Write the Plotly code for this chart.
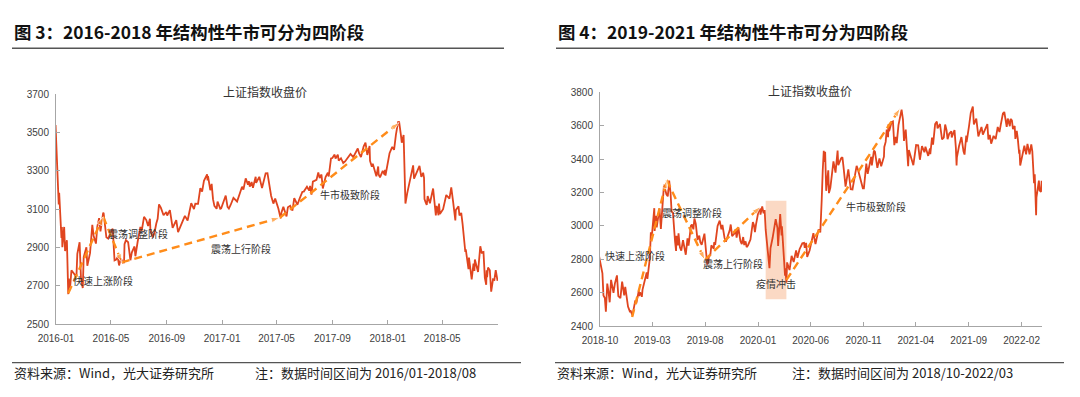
import plotly.graph_objects as go

# ---------------- data: left panel (2016-01 .. 2018-08) ----------------
left_dates = [
    "2015-12-31", "2016-01-04", "2016-01-07", "2016-01-08", "2016-01-11", "2016-01-13", "2016-01-14",
    "2016-01-15", "2016-01-19", "2016-01-21", "2016-01-25", "2016-01-26", "2016-01-28", "2016-01-29",
    "2016-02-01", "2016-02-04", "2016-02-15", "2016-02-17", "2016-02-22", "2016-02-25", "2016-02-29",
    "2016-03-02", "2016-03-08", "2016-03-10", "2016-03-16", "2016-03-21", "2016-03-24", "2016-03-29",
    "2016-04-01", "2016-04-05", "2016-04-08", "2016-04-14", "2016-04-15", "2016-04-21", "2016-04-25",
    "2016-05-03", "2016-05-05", "2016-05-09", "2016-05-12", "2016-05-16", "2016-05-19", "2016-05-23",
    "2016-05-27", "2016-05-30", "2016-05-31", "2016-06-03", "2016-06-08", "2016-06-13", "2016-06-16",
    "2016-06-22", "2016-06-24", "2016-06-29", "2016-07-05", "2016-07-08", "2016-07-13", "2016-07-18",
    "2016-07-22", "2016-07-26", "2016-07-27", "2016-08-01", "2016-08-05", "2016-08-09", "2016-08-12",
    "2016-08-15", "2016-08-19", "2016-08-25", "2016-08-31", "2016-09-02", "2016-09-08", "2016-09-14",
    "2016-09-22", "2016-09-26", "2016-09-30", "2016-10-11", "2016-10-17", "2016-10-25", "2016-10-31",
    "2016-11-03", "2016-11-09", "2016-11-14", "2016-11-18", "2016-11-22", "2016-11-29", "2016-11-30",
    "2016-12-01", "2016-12-06", "2016-12-09", "2016-12-12", "2016-12-15", "2016-12-20", "2016-12-22",
    "2016-12-28", "2016-12-30",
    "2017-01-03", "2017-01-06", "2017-01-09", "2017-01-13", "2017-01-16", "2017-01-20", "2017-01-26",
    "2017-02-03", "2017-02-10", "2017-02-14", "2017-02-17", "2017-02-22", "2017-02-27", "2017-03-01",
    "2017-03-03", "2017-03-07", "2017-03-10", "2017-03-16", "2017-03-17", "2017-03-24", "2017-03-30",
    "2017-04-07", "2017-04-11", "2017-04-14", "2017-04-19", "2017-04-24", "2017-04-28", "2017-05-05",
    "2017-05-08", "2017-05-10", "2017-05-12", "2017-05-16", "2017-05-23", "2017-05-26", "2017-05-31",
    "2017-06-05", "2017-06-09", "2017-06-16", "2017-06-21", "2017-06-27", "2017-06-30", "2017-07-07",
    "2017-07-12", "2017-07-14", "2017-07-17", "2017-07-20", "2017-07-28", "2017-08-01", "2017-08-04",
    "2017-08-08", "2017-08-11", "2017-08-17", "2017-08-22", "2017-08-24", "2017-08-29", "2017-09-01",
    "2017-09-06", "2017-09-08", "2017-09-13", "2017-09-15", "2017-09-20", "2017-09-25", "2017-09-29",
    "2017-10-11", "2017-10-17", "2017-10-27", "2017-10-30", "2017-11-03", "2017-11-09", "2017-11-13",
    "2017-11-17", "2017-11-22", "2017-11-23", "2017-11-27", "2017-11-29", "2017-12-01", "2017-12-07",
    "2017-12-11", "2017-12-12", "2017-12-15", "2017-12-21", "2017-12-25", "2017-12-26", "2017-12-27",
    "2017-12-29",
    "2018-01-02", "2018-01-05", "2018-01-11", "2018-01-15", "2018-01-19", "2018-01-24", "2018-01-25",
    "2018-01-26", "2018-01-30", "2018-02-01", "2018-02-05", "2018-02-07", "2018-02-09", "2018-02-13",
    "2018-02-23", "2018-02-26", "2018-02-28", "2018-03-06", "2018-03-12", "2018-03-16", "2018-03-20",
    "2018-03-22", "2018-03-23", "2018-03-26", "2018-03-28", "2018-03-30", "2018-04-04", "2018-04-11",
    "2018-04-17", "2018-04-19", "2018-04-23", "2018-04-24", "2018-04-26", "2018-05-03", "2018-05-08",
    "2018-05-10", "2018-05-17", "2018-05-21", "2018-05-25", "2018-05-30", "2018-05-31", "2018-06-06",
    "2018-06-08", "2018-06-12", "2018-06-15", "2018-06-19", "2018-06-21", "2018-06-22", "2018-06-28",
    "2018-06-29", "2018-07-05", "2018-07-09", "2018-07-11", "2018-07-12", "2018-07-19", "2018-07-24",
    "2018-07-27", "2018-07-31", "2018-08-03", "2018-08-06", "2018-08-07", "2018-08-08", "2018-08-10",
    "2018-08-14", "2018-08-17", "2018-08-21", "2018-08-24", "2018-08-27", "2018-08-31",
]
left_close = [
    3539, 3296, 3125, 3186, 3016, 2949, 3007,
    2901, 3007, 2881, 2938, 2749, 2656, 2737,
    2688, 2781, 2746, 2867, 2927, 2741, 2688,
    2849, 2901, 2804, 2870, 3018, 2960, 2920,
    3009, 3053, 2984, 3082, 3078, 2953, 2946,
    2992, 2997, 2832, 2835, 2850, 2806, 2843,
    2821, 2822, 2917, 2938, 2927, 2833, 2873,
    2905, 2854, 2931, 3007, 2988, 3060, 3043,
    3012, 3050, 2992, 2953, 2976, 3025, 3050,
    3125, 3108, 3068, 3085, 3067, 3095, 3002,
    3042, 2980, 3005, 3065, 3041, 3131, 3100,
    3129, 3128, 3210, 3192, 3248, 3282, 3250,
    3273, 3199, 3232, 3152, 3117, 3102, 3139,
    3102, 3104,
    3135, 3154, 3171, 3112, 3103, 3123, 3159,
    3140, 3196, 3217, 3202, 3261, 3228, 3246,
    3218, 3242, 3212, 3269, 3237, 3269, 3210,
    3287, 3288, 3246, 3170, 3129, 3155, 3103,
    3079, 3052, 3084, 3112, 3062, 3110, 3117,
    3092, 3158, 3123, 3156, 3191, 3192, 3217,
    3197, 3222, 3176, 3244, 3253, 3292, 3262,
    3281, 3208, 3268, 3290, 3271, 3365, 3367,
    3385, 3365, 3385, 3353, 3366, 3341, 3349,
    3388, 3372, 3417, 3391, 3372, 3428, 3447,
    3383, 3430, 3352, 3322, 3337, 3318, 3272,
    3323, 3281, 3266, 3300, 3281, 3306, 3275,
    3307,
    3349, 3392, 3425, 3410, 3488, 3559, 3548,
    3558, 3488, 3447, 3487, 3309, 3129, 3184,
    3289, 3329, 3259, 3289, 3326, 3269, 3290,
    3263, 3153, 3133, 3122, 3168, 3131, 3208,
    3067, 3117, 3068, 3129, 3075, 3100, 3161,
    3174, 3155, 3214, 3141, 3041, 3095, 3115,
    3067, 3080, 3022, 2908, 2876, 2890, 2786,
    2847, 2733, 2815, 2777, 2837, 2772, 2906,
    2873, 2876, 2741, 2705, 2780, 2744, 2795,
    2781, 2669, 2733, 2730, 2781, 2725,
]
left_trend_dates = ["2016-01-28", "2016-04-14", "2016-05-25", "2017-05-08", "2018-01-26"]
left_trend_vals = [2660, 3060, 2822, 3055, 3552]

left_tickvals = ["2016-01-01", "2016-05-01", "2016-09-01", "2017-01-01", "2017-05-01",
                 "2017-09-01", "2018-01-01", "2018-05-01", "2018-09-01"]
left_ticktext = ["2016-01", "2016-05", "2016-09", "2017-01", "2017-05",
                 "2017-09", "2018-01", "2018-05", ""]
left_yticks = [2500, 2700, 2900, 3100, 3300, 3500, 3700]

# ---------------- data: right panel (2018-10 .. 2022-03) ----------------
right_dates = [
    "2018-09-28", "2018-10-08", "2018-10-11", "2018-10-15", "2018-10-18", "2018-10-22", "2018-10-26",
    "2018-10-29", "2018-11-02", "2018-11-09", "2018-11-13", "2018-11-19", "2018-11-23", "2018-11-29",
    "2018-12-04", "2018-12-10", "2018-12-13", "2018-12-18", "2018-12-21", "2018-12-27", "2018-12-28",
    "2019-01-03", "2019-01-08", "2019-01-11", "2019-01-14", "2019-01-21", "2019-01-22", "2019-01-25",
    "2019-01-30", "2019-02-01", "2019-02-13", "2019-02-15", "2019-02-22", "2019-02-25", "2019-02-28",
    "2019-03-07", "2019-03-08", "2019-03-12", "2019-03-14", "2019-03-22", "2019-03-26", "2019-03-29",
    "2019-04-04", "2019-04-11", "2019-04-15", "2019-04-19", "2019-04-23", "2019-04-26", "2019-04-30",
    "2019-05-06", "2019-05-09", "2019-05-10", "2019-05-14", "2019-05-16", "2019-05-20", "2019-05-24",
    "2019-05-29", "2019-06-06", "2019-06-11", "2019-06-14", "2019-06-21", "2019-06-24", "2019-06-28",
    "2019-07-01", "2019-07-05", "2019-07-10", "2019-07-15", "2019-07-18", "2019-07-22", "2019-07-30",
    "2019-08-02", "2019-08-07", "2019-08-08", "2019-08-09", "2019-08-12", "2019-08-16", "2019-08-19",
    "2019-08-26", "2019-08-27", "2019-08-30", "2019-09-06", "2019-09-12", "2019-09-17", "2019-09-20",
    "2019-09-26", "2019-09-30", "2019-10-11", "2019-10-14", "2019-10-18", "2019-10-25", "2019-10-28",
    "2019-10-31", "2019-11-05", "2019-11-11", "2019-11-15", "2019-11-19", "2019-11-22", "2019-11-26",
    "2019-11-29", "2019-12-03", "2019-12-10", "2019-12-13", "2019-12-17", "2019-12-20", "2019-12-23",
    "2019-12-26", "2019-12-31",
    "2020-01-02", "2020-01-07", "2020-01-08", "2020-01-13", "2020-01-17", "2020-01-20", "2020-01-21",
    "2020-01-23", "2020-02-03", "2020-02-06", "2020-02-12", "2020-02-17", "2020-02-21", "2020-02-26",
    "2020-02-28", "2020-03-05", "2020-03-09", "2020-03-10", "2020-03-13", "2020-03-16", "2020-03-19",
    "2020-03-20", "2020-03-23", "2020-03-25", "2020-03-31", "2020-04-01", "2020-04-07", "2020-04-13",
    "2020-04-20", "2020-04-24", "2020-04-30", "2020-05-08", "2020-05-13", "2020-05-15", "2020-05-19",
    "2020-05-22", "2020-05-29", "2020-06-05", "2020-06-09", "2020-06-15", "2020-06-24", "2020-06-29",
    "2020-07-01", "2020-07-03", "2020-07-06", "2020-07-09", "2020-07-10", "2020-07-13", "2020-07-16",
    "2020-07-22", "2020-07-24", "2020-07-28", "2020-08-06", "2020-08-12", "2020-08-18", "2020-08-20",
    "2020-08-28", "2020-09-01", "2020-09-04", "2020-09-10", "2020-09-18", "2020-09-25", "2020-09-30",
    "2020-10-12", "2020-10-16", "2020-10-23", "2020-10-26", "2020-10-30", "2020-11-02", "2020-11-09",
    "2020-11-13", "2020-11-23", "2020-11-25", "2020-12-01", "2020-12-04", "2020-12-11", "2020-12-17",
    "2020-12-22", "2020-12-30", "2020-12-31",
    "2021-01-04", "2021-01-07", "2021-01-11", "2021-01-12", "2021-01-14", "2021-01-21", "2021-01-25",
    "2021-01-29", "2021-02-02", "2021-02-05", "2021-02-10", "2021-02-18", "2021-02-19", "2021-02-23",
    "2021-02-24", "2021-02-26", "2021-03-03", "2021-03-05", "2021-03-09", "2021-03-10", "2021-03-12",
    "2021-03-19", "2021-03-25", "2021-04-02", "2021-04-08", "2021-04-13", "2021-04-16", "2021-04-19",
    "2021-04-26", "2021-04-29", "2021-05-07", "2021-05-12", "2021-05-13", "2021-05-18", "2021-05-21",
    "2021-05-27", "2021-06-01", "2021-06-03", "2021-06-10", "2021-06-16", "2021-06-21", "2021-06-25",
    "2021-06-29", "2021-07-02", "2021-07-07", "2021-07-13", "2021-07-14", "2021-07-22", "2021-07-26",
    "2021-07-28", "2021-07-29", "2021-08-04", "2021-08-11", "2021-08-17", "2021-08-20", "2021-08-25",
    "2021-08-26", "2021-09-02", "2021-09-07", "2021-09-13", "2021-09-16", "2021-09-23", "2021-09-29",
    "2021-10-08", "2021-10-12", "2021-10-25", "2021-10-28", "2021-11-01", "2021-11-05", "2021-11-12",
    "2021-11-18", "2021-11-24", "2021-11-29", "2021-12-03", "2021-12-09", "2021-12-13", "2021-12-17",
    "2021-12-20", "2021-12-23", "2021-12-29", "2021-12-31",
    "2022-01-04", "2022-01-07", "2022-01-12", "2022-01-14", "2022-01-18", "2022-01-21", "2022-01-25",
    "2022-01-26", "2022-01-28", "2022-02-09", "2022-02-14", "2022-02-18", "2022-02-24", "2022-03-01",
    "2022-03-04", "2022-03-09", "2022-03-11", "2022-03-15", "2022-03-16", "2022-03-23", "2022-03-25",
    "2022-03-29", "2022-03-31",
]
right_close = [
    2821, 2716, 2583, 2568, 2486, 2654, 2598,
    2542, 2676, 2599, 2654, 2703, 2579, 2567,
    2666, 2584, 2634, 2576, 2516, 2483, 2494,
    2464, 2526, 2553, 2536, 2610, 2579, 2601,
    2575, 2618, 2721, 2682, 2804, 2961, 2941,
    3106, 2969, 3060, 2991, 3104, 2982, 3091,
    3247, 3189, 3177, 3271, 3198, 3086, 3078,
    2906, 2850, 2940, 2883, 2955, 2871, 2852,
    2914, 2827, 2925, 2882, 3001, 3008, 2979,
    3044, 3011, 2915, 2942, 2902, 2887, 2953,
    2868, 2768, 2795, 2775, 2815, 2824, 2883,
    2863, 2902, 2886, 2999, 3031, 2979, 3006,
    2929, 2905, 2973, 3008, 2938, 2955, 2980,
    2929, 2991, 2909, 2891, 2933, 2885, 2907,
    2872, 2884, 2918, 2968, 3022, 3005, 2962,
    3007, 3050,
    3085, 3104, 3067, 3116, 3075, 3095, 3053,
    2977, 2746, 2867, 2927, 2984, 3040, 2988,
    2880, 3071, 2943, 2997, 2887, 2789, 2702,
    2745, 2660, 2781, 2750, 2735, 2820, 2783,
    2853, 2809, 2860, 2895, 2898, 2868, 2898,
    2814, 2852, 2930, 2956, 2891, 2979, 2961,
    3025, 3152, 3332, 3450, 3383, 3443, 3210,
    3333, 3196, 3228, 3386, 3319, 3451, 3363,
    3404, 3411, 3355, 3235, 3338, 3219, 3218,
    3359, 3336, 3278, 3251, 3225, 3225, 3373,
    3311, 3414, 3362, 3451, 3445, 3347, 3404,
    3357, 3414, 3473,
    3503, 3576, 3531, 3608, 3566, 3621, 3625,
    3483, 3533, 3496, 3603, 3675, 3696, 3636,
    3564, 3509, 3577, 3502, 3360, 3357, 3454,
    3405, 3363, 3484, 3482, 3396, 3427, 3478,
    3441, 3474, 3419, 3463, 3429, 3529, 3487,
    3609, 3625, 3584, 3610, 3518, 3529, 3607,
    3573, 3519, 3553, 3566, 3529, 3574, 3467,
    3361, 3411, 3477, 3532, 3447, 3427, 3540,
    3501, 3597, 3676, 3715, 3607, 3642, 3536,
    3592, 3547, 3609, 3518, 3545, 3492, 3539,
    3520, 3592, 3562, 3608, 3673, 3682, 3632,
    3593, 3643, 3597, 3640,
    3632, 3580, 3598, 3521, 3569, 3522, 3433,
    3455, 3361, 3480, 3428, 3491, 3429, 3488,
    3447, 3256, 3309, 3064, 3171, 3271, 3212,
    3203, 3270,
]
right_trend_a_dates = ["2019-01-02", "2019-04-12", "2019-07-31", "2020-01-08"]
right_trend_a_vals = [2454, 3275, 2796, 3115]
right_trend_b_dates = ["2020-03-23", "2021-02-15"]
right_trend_b_vals = [2676, 3704]
covid_box_dates = ["2020-01-23", "2020-03-23"]
covid_box_vals = [2560, 3150]

right_tickvals = ["2018-10-01", "2019-03-01", "2019-08-01", "2020-01-01", "2020-06-01",
                  "2020-11-01", "2021-04-01", "2021-09-01", "2022-02-01"]
right_ticktext = ["2018-10", "2019-03", "2019-08", "2020-01", "2020-06",
                  "2020-11", "2021-04", "2021-09", "2022-02"]
right_yticks = [2400, 2600, 2800, 3000, 3200, 3400, 3600, 3800]

# ---------------- styling ----------------
W, H = 1080, 397
OFF = 8  # page body margin offset
LINE_RED = "#E0451F"
DASH_ORANGE = "#FF8C1A"
AXIS_GRAY = "#A6A6A6"
TICK_FONT = dict(family="Liberation Sans, Arial, sans-serif", size=10, color="#404040")
CJK = "Noto Sans CJK SC, sans-serif"


def px_x(p):
    return (p - OFF) / W


def px_y(p):
    return 1 - (p - OFF) / H


def arrow_trend(xs, ys, xa, ya):
    sizes = [0] + [9] * (len(xs) - 1)
    return go.Scatter(
        x=xs, y=ys, xaxis=xa, yaxis=ya, mode="lines+markers",
        line=dict(color=DASH_ORANGE, width=2.4, dash="8px,5px"),
        marker=dict(symbol="arrow", size=sizes, angleref="previous", color=DASH_ORANGE),
        hoverinfo="skip", showlegend=False,
    )


fig = go.Figure()
fig.add_trace(go.Scatter(x=left_dates, y=left_close, xaxis="x", yaxis="y", mode="lines",
                         line=dict(color=LINE_RED, width=1.8), showlegend=False))
fig.add_trace(arrow_trend(left_trend_dates, left_trend_vals, "x", "y"))
fig.add_trace(go.Scatter(x=right_dates, y=right_close, xaxis="x2", yaxis="y2", mode="lines",
                         line=dict(color=LINE_RED, width=1.8), showlegend=False))
fig.add_trace(arrow_trend(right_trend_a_dates, right_trend_a_vals, "x2", "y2"))
fig.add_trace(arrow_trend(right_trend_b_dates, right_trend_b_vals, "x2", "y2"))

axis_common = dict(showline=True, linecolor=AXIS_GRAY, linewidth=1, ticks="inside", ticklen=4,
                   tickcolor=AXIS_GRAY, tickfont=TICK_FONT, showgrid=False, zeroline=False,
                   fixedrange=True, automargin=False)
xstand = dict(ticklabelstandoff=5)
ystand = dict(ticklabelstandoff=4)

fig.update_layout(
    template="none",
    width=W, height=H, margin=dict(l=0, r=0, t=0, b=0, pad=0, autoexpand=False),
    paper_bgcolor="white", plot_bgcolor="white", showlegend=False,
    xaxis=dict(axis_common, **xstand, type="date", domain=[px_x(56), px_x(498)], anchor="y",
               range=["2016-01-01", "2018-09-01"], tickvals=left_tickvals, ticktext=left_ticktext),
    yaxis=dict(axis_common, **ystand, domain=[px_y(324), px_y(94.3)], anchor="x",
               range=[2500, 3700], tickvals=left_yticks),
    xaxis2=dict(axis_common, **xstand, type="date", domain=[px_x(600), px_x(1042)], anchor="y2",
                range=["2018-10-01", "2022-04-01"], tickvals=right_tickvals, ticktext=right_ticktext),
    yaxis2=dict(axis_common, **ystand, domain=[px_y(326), px_y(92.3)], anchor="x2",
                range=[2400, 3800], tickvals=right_yticks),
)

# shaded COVID shock box
fig.add_shape(type="rect", xref="x2", yref="y2", x0=covid_box_dates[0], x1=covid_box_dates[1],
              y0=covid_box_vals[0], y1=covid_box_vals[1], fillcolor="#FBD9C4", line_width=0,
              layer="below")

# header / footer rules
for x0, x1 in [(12, 504), (556, 1048)]:
    fig.add_shape(type="line", xref="paper", yref="paper", x0=px_x(x0), x1=px_x(x1),
                  y0=px_y(48.3), y1=px_y(48.3), line=dict(color="#555555", width=1.5))
for x0, x1 in [(12, 521), (555, 1064)]:
    fig.add_shape(type="line", xref="paper", yref="paper", x0=px_x(x0), x1=px_x(x1),
                  y0=px_y(362.7), y1=px_y(362.7), line=dict(color="#555555", width=1.2))


def text(x, y, s, size, color="#333333", anchor="center", family=CJK):
    fig.add_annotation(xref="paper", yref="paper", x=px_x(x), y=px_y(y), text=s, showarrow=False,
                       xanchor=anchor, yanchor="middle",
                       font=dict(family=family, size=size, color=color))


text(12, 31.5, "<b>图 3：2016-2018 年结构性牛市可分为四阶段</b>", 17.4, "#111111", "left")
text(556, 31.5, "<b>图 4：2019-2021 年结构性牛市可分为四阶段</b>", 17.4, "#111111", "left")

text(265, 92, "上证指数收盘价", 12)
text(810, 90, "上证指数收盘价", 12)

# left stage labels
text(103, 280, "快速上涨阶段", 10)
text(137.5, 233, "震荡调整阶段", 10)
text(241, 248, "震荡上行阶段", 10)
text(349.5, 194, "牛市极致阶段", 10)

# right stage labels
text(635, 255, "快速上涨阶段", 10)
text(692, 213, "震荡调整阶段", 10)
text(733, 263, "震荡上行阶段", 10)
text(776, 283, "疫情冲击", 10)
text(876, 206, "牛市极致阶段", 10)

# footers
text(12, 372, "资料来源：Wind，光大证券研究所", 13, "#222222", "left")
text(253, 372, "注：数据时间区间为 2016/01-2018/08", 13, "#222222", "left")
text(555, 372, "资料来源：Wind，光大证券研究所", 13, "#222222", "left")
text(790, 372, "注：数据时间区间为 2018/10-2022/03", 13, "#222222", "left")

fig.write_html("out.html")
